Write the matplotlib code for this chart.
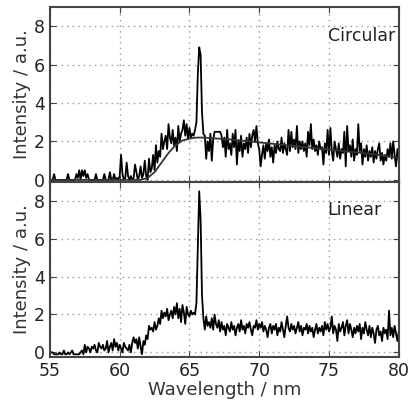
import numpy as np
from matplotlib import pyplot as plt

# wavelength grid, 0.1 nm steps
wl = np.round(np.arange(55.0, 80.05, 0.1), 1)

circular = [
    0.0, 0.0, 0.0, 0.3, 0.0, 0.0, 0.0, 0.0, 0.0, 0.0,
    0.0, 0.0, 0.0, 0.3, 0.0, 0.0, 0.0, 0.0, 0.0, 0.3,
    0.1, 0.5, 0.0, 0.5, 0.2, 0.5, 0.1, 0.3, 0.0, 0.0,
    0.0, 0.0, 0.0, 0.3, 0.0, 0.0, 0.0, 0.0, 0.0, 0.3,
    0.0, 0.0, 0.0, 0.4, 0.0, 0.0, 0.3, 0.0, 0.1, 0.0,
    0.2, 1.3, 0.3, 0.0, 0.1, 0.9, 0.2, 0.0, 0.2, 0.0,
    0.1, 0.8, 0.4, 0.0, 0.2, 0.7, 0.1, 0.3, 1.0, 0.2,
    0.0, 1.1, 0.4, 0.6, 1.3, 0.5, 1.8, 0.9, 1.5, 1.2,
    2.4, 1.6, 2.0, 2.3, 1.6, 2.9, 2.2, 1.9, 2.6, 1.8,
    2.2, 1.5, 2.8, 2.0, 2.4, 2.6, 3.1, 2.3, 2.9, 2.1,
    2.7, 2.2, 2.4, 2.3, 2.6, 3.0, 5.5, 6.9, 6.5, 3.5,
    2.4, 2.3, 1.1, 2.0, 1.5, 2.4, 1.0, 2.1, 2.5, 2.5,
    2.5, 2.5, 2.5, 2.3, 1.7, 2.2, 1.2, 2.6, 1.6, 1.9,
    1.3, 2.4, 1.7, 2.6, 0.8, 2.0, 1.5, 2.3, 1.2, 1.9,
    1.6, 2.2, 1.4, 2.4, 1.7, 2.3, 2.6, 2.0, 2.8, 1.9,
    1.6, 0.7, 1.3, 1.8, 1.1, 1.9, 1.5, 2.1, 1.2, 1.7,
    0.9, 1.8, 1.4, 2.0, 1.6, 1.5, 2.2, 1.4, 1.9, 1.6,
    1.3, 2.6, 1.5, 2.5, 1.7, 2.1, 1.6, 2.8, 1.4, 2.0,
    1.6, 2.0, 1.5, 1.9, 1.2, 2.5, 1.8, 2.9, 1.6, 2.1,
    1.5, 1.8, 1.3, 2.0, 1.6, 1.7, 0.8, 1.9, 1.4, 2.6,
    1.3, 2.7, 1.5, 1.0, 2.0, 1.6, 1.2, 1.9, 1.1, 1.6,
    1.4, 2.5, 0.7, 2.8, 1.5, 1.8, 1.2, 2.1, 1.0, 1.6,
    1.3, 2.9, 1.5, 1.9, 0.8, 1.6, 1.2, 1.8, 1.0, 1.5,
    1.2, 1.7, 0.9, 1.5, 1.1, 1.6, 1.9, 1.0, 1.4, 0.8,
    1.3, 1.0, 1.6, 1.2, 1.9, 1.1, 2.0, 1.3, 0.7, 1.6,
    1.0,
]

linear = [
    0.0, 0.0, 0.0, -0.1, -0.1, -0.1, -0.1, 0.0, -0.1, -0.1,
    0.1, -0.1, -0.1, 0.0, -0.1, 0.0, 0.1, -0.1, -0.1, -0.1,
    -0.1, -0.1, 0.0, 0.1, -0.1, 0.4, 0.0, 0.3, 0.2, 0.0,
    0.3, 0.2, 0.4, 0.1, 0.0, 0.5, 0.3, 0.2, 0.4, 0.1,
    0.2, 0.6, 0.0, 0.3, 0.5, 0.1, 0.7, 0.3, 0.5, 0.1,
    0.4, 0.2, 0.0, 0.5, 0.3, 0.2, 0.1, 0.4, 0.0, 0.5,
    0.8, 0.5, 0.7, 0.2, 0.8, 0.3, -0.1, 0.6, 0.4, 0.9,
    0.7, 1.4, 1.2, 1.3, 1.1, 1.6, 1.2, 1.4, 1.8, 1.5,
    2.2, 1.8, 2.1, 1.9, 2.3, 1.7, 2.0, 2.2, 1.8, 2.4,
    2.0, 2.6, 1.8, 2.3, 1.6, 2.5, 2.1, 1.5, 2.4, 2.0,
    1.9, 2.2, 2.0, 2.1, 2.0, 2.6, 5.5, 8.5, 7.0, 3.0,
    1.8, 1.2, 1.9, 1.4, 1.6, 1.3, 1.8, 1.2, 2.0, 1.5,
    1.3, 1.7, 1.1, 1.6, 1.2, 1.4, 0.9, 1.5, 1.3, 1.1,
    1.6, 1.2, 1.4, 0.9, 1.3, 1.5, 1.1, 1.7, 1.2, 1.4,
    1.0, 1.5, 1.3, 1.6, 1.2, 0.9, 1.4, 1.3, 1.7, 1.2,
    1.5, 1.3, 1.6, 1.1, 1.4, 1.2, 0.8, 1.3, 1.5, 1.0,
    1.4, 1.2, 1.5, 0.9, 1.3, 1.1, 1.6, 1.2, 0.8, 1.4,
    1.9, 1.3, 1.1, 1.5, 1.2, 1.4, 1.0, 1.3, 1.6, 1.1,
    1.4, 0.9, 1.3, 1.2, 1.5, 1.0, 1.4, 1.1, 1.3, 0.8,
    1.2, 1.5, 1.0, 1.3, 1.1, 1.4, 0.9, 1.6, 1.2, 1.5,
    1.1, 1.3, 1.9, 1.0, 1.4, 1.2, 0.6, 1.5, 1.1, 1.3,
    1.6, 0.9, 1.4, 1.7, 1.0, 1.5, 1.2, 0.8, 1.3, 1.0,
    1.4, 1.1, 1.5, 0.7, 1.3, 1.0, 1.6, 1.2, 0.9, 1.4,
    0.8, 1.3, 1.0, 0.5, 1.2, 1.4, 0.9, 1.1, 0.6, 1.3,
    1.0, 1.2, 0.7, 2.2, 0.9, 1.3, 0.8, 1.4, 1.0, 0.6,
    1.1,
]

# smooth background fit for the circular spectrum
fit_wl = [55, 61.5, 62, 62.5, 63, 63.5, 64, 64.5, 65, 65.5, 66, 68, 70, 72, 74, 76, 78, 80]
fit_val = [0, 0, 0.1, 0.4, 0.9, 1.4, 1.8, 2.05, 2.15, 2.2, 2.2, 2.1, 1.95, 1.8, 1.65, 1.5, 1.35, 1.15]

xticks = [55, 60, 65, 70, 75, 80]
yticks = [0, 2, 4, 6, 8]

plt.rcParams['font.family'] = 'DejaVu Sans'
fig = plt.figure(figsize=(4.09, 4.04), dpi=100)
ax1 = fig.add_axes([0.122, 0.550, 0.853, 0.433])
ax2 = fig.add_axes([0.122, 0.116, 0.853, 0.434])

ax1.plot(wl, circular, color='k', lw=1.3)
ax1.plot(fit_wl, fit_val, color='#333333', lw=1.3)
ax2.plot(wl, linear, color='k', lw=1.3)

for ax, lim, name in [(ax1, (-0.1, 9.0), 'Circular'), (ax2, (-0.25, 9.0), 'Linear')]:
    ax.set_xlim(55, 80)
    ax.set_ylim(*lim)
    ax.set_xticks(xticks)
    ax.set_yticks(yticks)
    ax.grid(True, color='#999999', linestyle=(0, (1, 3)), lw=1)
    ax.tick_params(direction='in', top=True, right=True, labelsize=12.5, length=4,
                   color='#444444', labelcolor='#222222')
    for s in ax.spines.values():
        s.set_color('#444444')
        s.set_linewidth(1.5)
    ax.set_ylabel('Intensity / a.u.', fontsize=13, color='#333333', labelpad=2)
    ax.text(74.9, 7.5, name, fontsize=12.5, va='center', color='#222222')

ax1.tick_params(labelbottom=False)
ax2.set_xlabel('Wavelength / nm', fontsize=13, color='#333333', labelpad=1)

fig.savefig('out.png', dpi=100)
